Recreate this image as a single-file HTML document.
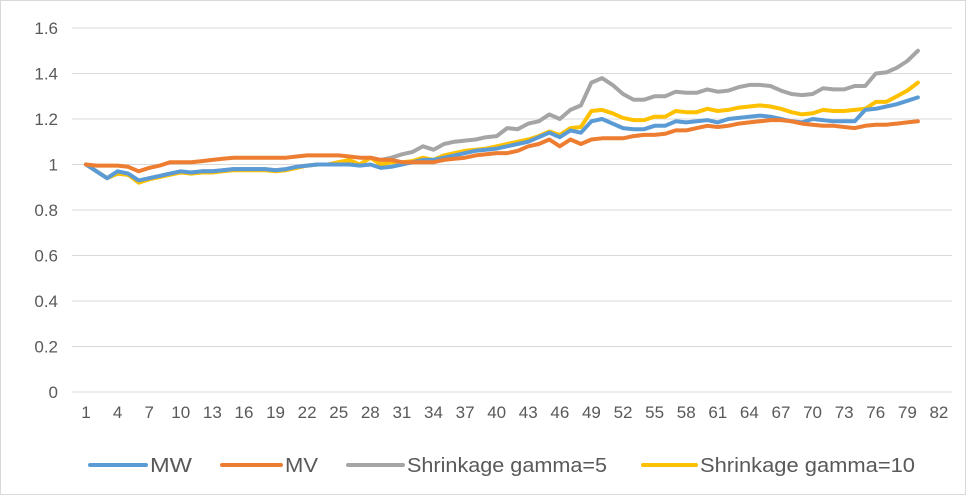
<!DOCTYPE html>
<html><head><meta charset="utf-8"><style>
body{margin:0;background:#fff;font-family:"Liberation Sans",sans-serif;}
svg text{font-family:"Liberation Sans",sans-serif;fill:#595959;font-size:17px;}
svg #legend text{font-size:20px;}
</style></head><body>
<svg id="chart" width="966" height="495" viewBox="0 0 966 495">
<rect x="0.5" y="0.5" width="965" height="494" fill="#fff" stroke="#d9d9d9"/>
<g id="grid"></g><g id="ylabels"></g><g id="xlabels"></g><g id="series"></g>
<g id="legend"></g>
</svg>
<script>
const yTicks=[0,0.2,0.4,0.6,0.8,1,1.2,1.4,1.6];
const yTickLabels=["0","0.2","0.4","0.6","0.8","1","1.2","1.4","1.6"];
const xCategoryCount=82;
const seriesNames=["MW","MV","Shrinkage gamma=5","Shrinkage gamma=10"];
const seriesColors=["#5b9bd5","#ed7d31","#a5a5a5","#ffc000"];
const mw=[1,.97,.94,.97,.96,.93,.94,.95,.96,.97,.965,.97,.97,.975,.98,.98,.98,.98,.975,.98,.99,.995,1.0,1.0,1.0,1.0,.995,1.0,.985,.99,1.0,1.01,1.02,1.02,1.03,1.04,1.05,1.06,1.065,1.07,1.08,1.09,1.10,1.12,1.14,1.12,1.15,1.14,1.19,1.2,1.18,1.16,1.155,1.155,1.17,1.17,1.19,1.185,1.19,1.195,1.185,1.2,1.205,1.21,1.215,1.21,1.2,1.19,1.185,1.2,1.195,1.19,1.19,1.19,1.24,1.245,1.255,1.265,1.28,1.295];
const mv=[1,.995,.995,.995,.99,.97,.985,.995,1.01,1.01,1.01,1.015,1.02,1.025,1.03,1.03,1.03,1.03,1.03,1.03,1.035,1.04,1.04,1.04,1.04,1.035,1.03,1.03,1.02,1.02,1.01,1.01,1.01,1.01,1.02,1.025,1.03,1.04,1.045,1.05,1.05,1.06,1.08,1.09,1.11,1.08,1.11,1.09,1.11,1.115,1.115,1.115,1.125,1.13,1.13,1.135,1.15,1.15,1.16,1.17,1.165,1.17,1.18,1.185,1.19,1.195,1.195,1.19,1.18,1.175,1.17,1.17,1.165,1.16,1.17,1.175,1.175,1.18,1.185,1.19];
const g5=[1,.97,.94,.96,.955,.925,.94,.95,.96,.965,.965,.97,.97,.975,.98,.98,.98,.98,.975,.98,.99,.995,1.0,1.0,1.01,1.01,1.0,1.03,1.02,1.03,1.045,1.055,1.08,1.065,1.09,1.1,1.105,1.11,1.12,1.125,1.16,1.155,1.18,1.19,1.22,1.2,1.24,1.26,1.36,1.38,1.35,1.31,1.285,1.285,1.3,1.3,1.32,1.315,1.315,1.33,1.32,1.325,1.34,1.35,1.35,1.345,1.325,1.31,1.305,1.31,1.335,1.33,1.33,1.345,1.345,1.4,1.405,1.425,1.455,1.5];
const g10=[1,.97,.94,.96,.955,.92,.935,.945,.955,.965,.96,.965,.965,.97,.975,.975,.975,.975,.97,.975,.985,.995,1.0,1.0,1.01,1.02,1.0,1.03,1.0,1.01,1.01,1.015,1.03,1.02,1.04,1.05,1.06,1.065,1.07,1.08,1.09,1.1,1.11,1.125,1.145,1.13,1.16,1.165,1.235,1.24,1.225,1.205,1.195,1.195,1.21,1.21,1.235,1.23,1.23,1.245,1.235,1.24,1.25,1.255,1.26,1.255,1.245,1.23,1.22,1.225,1.24,1.235,1.235,1.24,1.245,1.275,1.275,1.3,1.325,1.36];
const allSeries=[mw,mv,g5,g10];
const NS="http://www.w3.org/2000/svg";
function xPos(i){return 86+(i-1)*10.53;}
function yPos(v){return 392-v*227.5;}
function mk(tag,attrs,parent){const e=document.createElementNS(NS,tag);for(const k in attrs)e.setAttribute(k,attrs[k]);parent.appendChild(e);return e;}
const grid=document.getElementById('grid'),yl=document.getElementById('ylabels'),xl=document.getElementById('xlabels'),sg=document.getElementById('series'),lg=document.getElementById('legend');
yTicks.forEach((t,k)=>{
 const l=mk('line',{x1:72,x2:952,y1:yPos(t),y2:yPos(t),stroke:'#d9d9d9','stroke-width':1},grid);
 
 
 const tx=mk('text',{x:58,y:yPos(t)+6,'text-anchor':'end'},yl);
 tx.textContent=yTickLabels[k];
 
 
});
for(let i=1;i<=xCategoryCount;i+=3){
 const tx=mk('text',{x:xPos(i),y:418,'text-anchor':'middle'},xl);
 tx.textContent=String(i);
 
 
}
[2,3,0,1].forEach(s=>{
 const d=allSeries[s].map((v,i)=>(i?'L':'M')+xPos(i+1).toFixed(1)+' '+yPos(v).toFixed(1)).join(' ');
 const p=mk('path',{d:d,fill:'none',stroke:seriesColors[s],'stroke-width':4,'stroke-linejoin':'round','stroke-linecap':'round'},sg);
 
 
});
const legX=[[90,150,42],[222,285,33],[348,407,200],[643,700,215]];
seriesNames.forEach((n,s)=>{
 const l=mk('line',{x1:legX[s][0],x2:legX[s][1]-4,y1:465,y2:465,stroke:seriesColors[s],'stroke-width':4,'stroke-linecap':'round'},lg);
 
 
 const t=mk('text',{x:legX[s][1],y:472,textLength:legX[s][2],lengthAdjust:'spacingAndGlyphs'},lg);
 t.textContent=n;
 
 
});
</script>
</body></html>
